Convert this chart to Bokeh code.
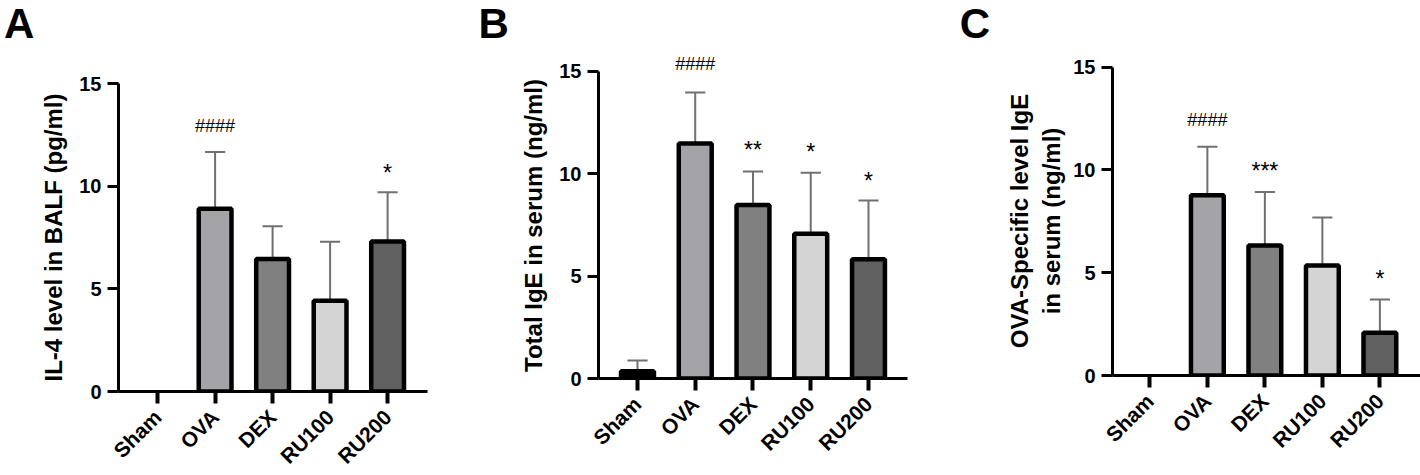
import math
from bokeh.plotting import figure
from bokeh.layouts import row, column
from bokeh.models import Range1d, FixedTicker, ColumnDataSource, Div
from bokeh.embed import file_html
from bokeh.resources import INLINE
from bokeh.core.properties import value

# ---------------- data ----------------
groups = ["Sham", "OVA", "DEX", "RU100", "RU200"]
bar_colors = ["#000000", "#a4a3a8", "#808080", "#d4d4d4", "#606060"]

# Panel A: IL-4 level in BALF (pg/ml)
il4_mean = [0.0, 8.90, 6.46, 4.42, 7.31]
il4_sd = [0.0, 2.76, 1.59, 2.87, 2.40]
il4_mark_groups = ["OVA", "RU200"]
il4_mark_text = ["####", "*"]
il4_mark_y = [12.93, 10.89]

# Panel B: Total IgE in serum (ng/ml)
ige_mean = [0.35, 11.48, 8.47, 7.07, 5.83]
ige_sd = [0.53, 2.49, 1.64, 2.98, 2.87]
ige_mark_groups = ["OVA", "DEX", "RU100", "RU200"]
ige_mark_text = ["####", "**", "*", "*"]
ige_mark_y = [15.36, 11.43, 11.31, 9.89]

# Panel C: OVA-specific IgE in serum (ng/ml)
ova_mean = [0.0, 8.77, 6.32, 5.35, 2.08]
ova_sd = [0.0, 2.35, 2.61, 2.33, 1.62]
ova_mark_groups = ["OVA", "DEX", "RU200"]
ova_mark_text = ["####", "***", "*"]
ova_mark_y = [12.45, 10.17, 4.93]

y_ticks = [0, 5, 10, 15]

FONT = "Liberation Sans"


def panel(letter, ylabel, means, sds, mgroups, mtexts, mys,
          width, left, frame_w, spacing, x_start, frame_top, y0, ppu,
          letter_pad, label_standoff, top):
    frame_h = y0 - frame_top
    right = width - left - frame_w
    y_end = frame_h / ppu
    x_end = x_start + frame_w / spacing
    p = figure(frame_width=frame_w, frame_height=frame_h,
               x_range=Range1d(x_start, x_end), y_range=Range1d(0, y_end),
               output_backend="svg", toolbar_location=None,
               min_border_left=left, min_border_right=right,
               min_border_top=top, min_border_bottom=0)
    p.outline_line_color = None
    p.xgrid.visible = False
    p.ygrid.visible = False
    p.background_fill_color = "white"
    p.border_fill_color = "white"

    xs = list(range(len(groups)))
    # error bars (upper only)
    ex = [x for x, s in zip(xs, sds) if s > 0]
    ey0 = [m for m, s in zip(means, sds) if s > 0]
    ey1 = [m + s for m, s in zip(means, sds) if s > 0]
    cap = 0.175
    p.segment(x0=ex, y0=ey0, x1=ex, y1=ey1, line_color="#707070", line_width=2)
    p.segment(x0=[x - cap for x in ex], y0=ey1, x1=[x + cap for x in ex], y1=ey1,
              line_color="#707070", line_width=2)
    # bars (zero-height bars are not drawn, as in the original)
    bx = [x for x, m in zip(xs, means) if m > 0]
    bt = [m for m in means if m > 0]
    bc = [c for c, m in zip(bar_colors, means) if m > 0]
    p.vbar(x=bx, top=bt, bottom=0, width=0.57, fill_color=bc,
           line_color="black", line_width=4.5)
    # significance marks
    mx = [groups.index(g) for g in mgroups]
    hsrc = ColumnDataSource(dict(
        x=[x for x, t in zip(mx, mtexts) if t.startswith("#")],
        y=[y for y, t in zip(mys, mtexts) if t.startswith("#")],
        t=[t for t in mtexts if t.startswith("#")]))
    ssrc = ColumnDataSource(dict(
        x=[x for x, t in zip(mx, mtexts) if t.startswith("*")],
        y=[y for y, t in zip(mys, mtexts) if t.startswith("*")],
        t=[t for t in mtexts if t.startswith("*")]))
    p.text(x="x", y="y", text="t", source=hsrc, text_font=value(FONT),
           text_font_size="18px", text_align="center", text_baseline="middle",
           text_color="black")
    p.text(x="x", y="y", text="t", source=ssrc, text_font=value(FONT),
           text_font_size="23px", text_align="center", text_baseline="middle",
           text_color="black", y_offset=5)

    # x axis
    xa = p.xaxis[0]
    xa.ticker = FixedTicker(ticks=xs)
    xa.major_label_overrides = {i: g for i, g in enumerate(groups)}
    xa.major_label_orientation = math.pi / 4
    xa.major_label_text_font = FONT
    xa.major_label_text_font_style = "bold"
    xa.major_label_text_font_size = "21px"
    xa.major_label_text_color = "black"
    xa.major_label_standoff = 10
    xa.axis_line_width = 3
    xa.axis_line_color = "black"
    xa.major_tick_line_width = 4
    xa.major_tick_out = 12
    xa.major_tick_in = 0
    xa.minor_tick_line_color = None

    # y axis
    ya = p.yaxis[0]
    ya.ticker = FixedTicker(ticks=y_ticks)
    ya.bounds = (0, 15)
    ya.major_label_text_font = FONT
    ya.major_label_text_font_style = "bold"
    ya.major_label_text_font_size = "20px"
    ya.major_label_text_color = "black"
    ya.major_label_standoff = 6
    ya.axis_line_width = 3
    ya.axis_line_color = "black"
    ya.major_tick_line_width = 3
    ya.major_tick_out = 11
    ya.major_tick_in = 0
    ya.minor_tick_line_color = None
    ya.axis_label = ylabel
    ya.axis_label_text_font = FONT
    ya.axis_label_text_font_style = "bold"
    ya.axis_label_text_font_size = "24px"
    ya.axis_label_text_color = "black"
    ya.axis_label_standoff = label_standoff

    head = Div(text=('<div style="font-family: \'Liberation Sans\', Arial, sans-serif; '
                     'font-size: 42px; font-weight: bold; line-height: 48px; color: black; '
                     'padding-left: %.1fpx; margin: 0;">%s</div>' % (letter_pad, letter)),
               width=width, height=frame_top - top, margin=0)
    return column(head, p, spacing=0)


pa = panel("A", "IL-4 level in BALF (pg/ml)", il4_mean, il4_sd,
           il4_mark_groups, il4_mark_text, il4_mark_y,
           width=470, left=118, frame_w=309, spacing=57.5, x_start=-0.68,
           frame_top=83, y0=391, ppu=20.53, letter_pad=4, label_standoff=9, top=16)
pb = panel("B", "Total IgE in serum (ng/ml)\u00a0\u00a0\u00a0", ige_mean, ige_sd,
           ige_mark_groups, ige_mark_text, ige_mark_y,
           width=470, left=128, frame_w=309, spacing=57.75, x_start=-0.675,
           frame_top=52, y0=378, ppu=20.47, letter_pad=8.6, label_standoff=9, top=8)
pc = panel("C", "OVA-Specific level IgE\nin serum (ng/ml)", ova_mean, ova_sd,
           ova_mark_groups, ova_mark_text, ova_mark_y,
           width=480, left=172, frame_w=308, spacing=57.5, x_start=-0.65,
           frame_top=66, y0=375, ppu=20.56, letter_pad=19.7, label_standoff=5, top=16)

p = row(pa, pb, pc, spacing=0)
open("out.html", "w").write(file_html(p, INLINE))
